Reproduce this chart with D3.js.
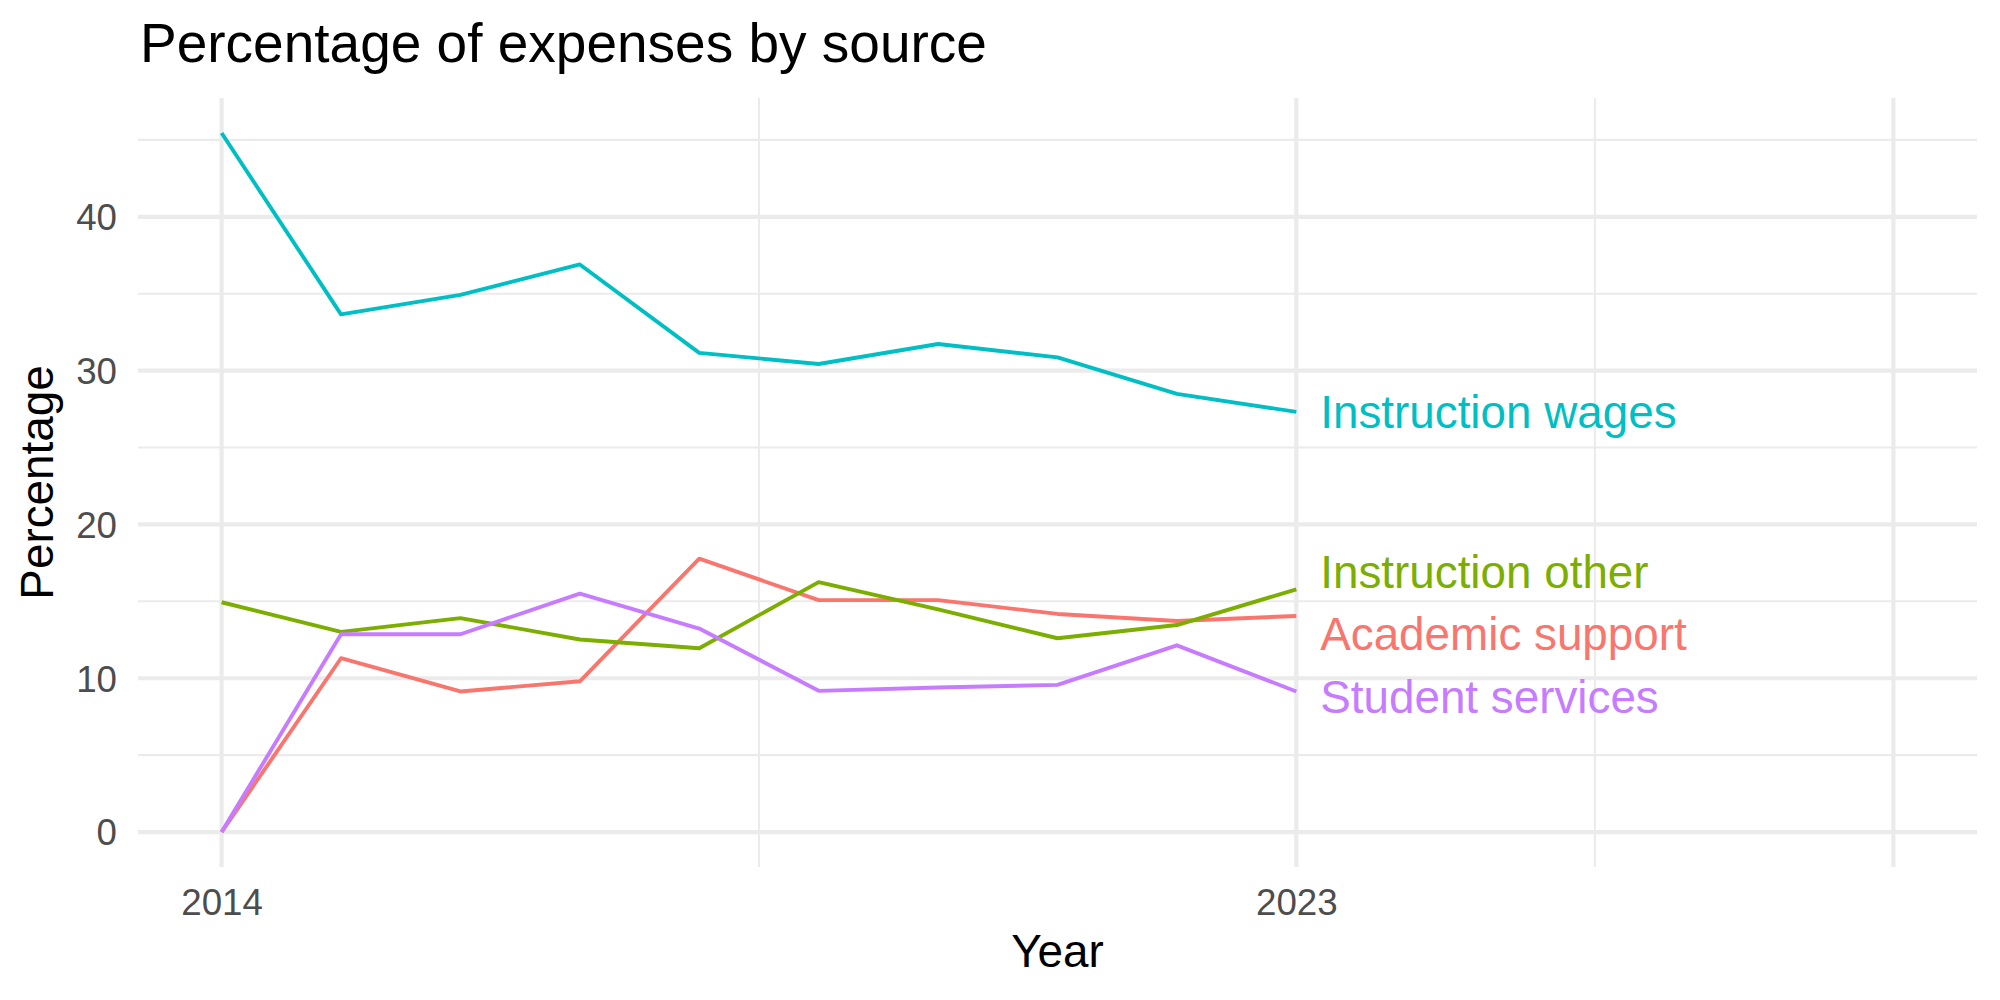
<!DOCTYPE html>
<html>
<head>
<meta charset="utf-8">
<script src="https://cdn.jsdelivr.net/npm/d3@7"></script>
<style>
  body { margin: 0; background: #fff; }
  text { font-family: "Liberation Sans", Arial, Helvetica, sans-serif; }
</style>
</head>
<body>
<svg id="chart" width="2000" height="1000"></svg>
<script>
// Years on the x axis
var years = [2014, 2015, 2016, 2017, 2018, 2019, 2020, 2021, 2022, 2023];

// Series, in the order ggplot draws them (alphabetical)
var seriesNames = ["Academic support", "Instruction other", "Instruction wages", "Student services"];
var seriesColors = ["#F8766D", "#7CAE00", "#00BFC4", "#C77CFF"];

var academicSupport  = [0, 11.30, 9.14, 9.80, 17.77, 15.08, 15.08, 14.18, 13.72, 14.05];
var instructionOther = [14.94, 13.01, 13.91, 12.52, 11.95, 16.25, 14.48, 12.60, 13.46, 15.78];
var instructionWages = [45.45, 33.66, 34.92, 36.90, 31.15, 30.43, 31.73, 30.86, 28.49, 27.32];
var studentServices  = [0, 12.86, 12.86, 15.50, 13.23, 9.18, 9.40, 9.57, 12.14, 9.14];

// Where the end labels sit (repelled a little so they do not overlap)
var labelY = [12.88, 16.95, 27.33, 8.78];

// Axis settings
var xLimits = [2014, 2028];
var xBreaks = [2014, 2023, 2028];
var xBreakLabels = ["2014", "2023", ""];
var yBreaks = [0, 10, 20, 30, 40];

var seriesValues = [academicSupport, instructionOther, instructionWages, studentServices];

var svg = d3.select("#chart");
svg.append("rect").attr("width", 2000).attr("height", 1000).attr("fill", "#fff");

// Panel area
var panel = {left: 138, right: 1977, top: 98, bottom: 867};

// ggplot-like 5% expansion
function expand(lo, hi) {
  var pad = (hi - lo) * 0.05;
  return [lo - pad, hi + pad];
}

var allValues = d3.merge(seriesValues);
var x = d3.scaleLinear()
  .domain(expand(xLimits[0], xLimits[1]))
  .range([panel.left, panel.right]);
var y = d3.scaleLinear()
  .domain(expand(d3.min(allValues), d3.max(allValues)))
  .range([panel.bottom, panel.top]);

// minor breaks are the midpoints between major ones
function midpoints(arr) {
  var out = [];
  for (var i = 0; i < arr.length - 1; i++) out.push((arr[i] + arr[i + 1]) / 2);
  return out;
}
var xMinor = midpoints(xBreaks);
var yMinor = midpoints(yBreaks);
yMinor.push(yBreaks[yBreaks.length - 1] + 5);

var grid = svg.append("g").attr("class", "grid");

// minor grid first
grid.selectAll(".y-minor").data(yMinor).enter().append("line")
  .attr("x1", panel.left).attr("x2", panel.right)
  .attr("y1", function(d) { return y(d); }).attr("y2", function(d) { return y(d); })
  .attr("stroke", "#EBEBEB").attr("stroke-width", 2.1);
grid.selectAll(".x-minor").data(xMinor).enter().append("line")
  .attr("y1", panel.top).attr("y2", panel.bottom)
  .attr("x1", function(d) { return x(d); }).attr("x2", function(d) { return x(d); })
  .attr("stroke", "#EBEBEB").attr("stroke-width", 2.1);

// major grid
grid.selectAll(".y-major").data(yBreaks).enter().append("line")
  .attr("x1", panel.left).attr("x2", panel.right)
  .attr("y1", function(d) { return y(d); }).attr("y2", function(d) { return y(d); })
  .attr("stroke", "#EBEBEB").attr("stroke-width", 4.2);
grid.selectAll(".x-major").data(xBreaks).enter().append("line")
  .attr("y1", panel.top).attr("y2", panel.bottom)
  .attr("x1", function(d) { return x(d); }).attr("x2", function(d) { return x(d); })
  .attr("stroke", "#EBEBEB").attr("stroke-width", 4.2);

// Axes (no ticks, no domain line, like theme_minimal)
var yAxis = svg.append("g")
  .attr("transform", "translate(" + (panel.left - 21) + ",0)")
  .call(d3.axisLeft(y).tickValues(yBreaks).tickSize(0).tickPadding(0));
yAxis.select(".domain").remove();
yAxis.selectAll("text")
  .attr("font-size", 36.7)
  .attr("fill", "#4D4D4D")
  .attr("dy", "0.35em")
  .style("font-family", "'Liberation Sans', Arial, sans-serif");

var xAxis = svg.append("g")
  .attr("transform", "translate(0," + (panel.bottom + 21) + ")")
  .call(d3.axisBottom(x).tickValues(xBreaks).tickSize(0).tickPadding(0)
    .tickFormat(function(d, i) { return xBreakLabels[i]; }));
xAxis.select(".domain").remove();
xAxis.selectAll("text")
  .attr("font-size", 36.7)
  .attr("fill", "#4D4D4D")
  .attr("y", 0)
  .attr("dy", "0.73em")
  .style("font-family", "'Liberation Sans', Arial, sans-serif");

// Lines
var line = d3.line()
  .x(function(d, i) { return x(years[i]); })
  .y(function(d) { return y(d); });

svg.append("g").selectAll("path")
  .data(seriesValues)
  .enter().append("path")
    .attr("d", line)
    .attr("fill", "none")
    .attr("stroke", function(d, i) { return seriesColors[i]; })
    .attr("stroke-width", 3.9)
    .attr("stroke-linejoin", "round")
    .attr("stroke-linecap", "butt");

// End labels
var labelNudgeX = 0.2;
svg.append("g").selectAll("text")
  .data(seriesNames)
  .enter().append("text")
    .attr("x", x(years[years.length - 1] + labelNudgeX))
    .attr("y", function(d, i) { return y(labelY[i]); })
    .attr("dy", "0.36em")
    .attr("font-size", 45.8)
    .attr("fill", function(d, i) { return seriesColors[i]; })
    .text(function(d) { return d; });

// Titles
svg.append("text")
  .attr("x", 140).attr("y", 62)
  .attr("font-size", 55)
  .attr("fill", "#000")
  .text("Percentage of expenses by source");

svg.append("text")
  .attr("x", (panel.left + panel.right) / 2).attr("y", 967)
  .attr("text-anchor", "middle")
  .attr("font-size", 45.8)
  .attr("fill", "#000")
  .text("Year");

svg.append("text")
  .attr("transform", "translate(53," + ((panel.top + panel.bottom) / 2) + ") rotate(-90)")
  .attr("text-anchor", "middle")
  .attr("font-size", 45.8)
  .attr("fill", "#000")
  .text("Percentage");
</script>
</body>
</html>
